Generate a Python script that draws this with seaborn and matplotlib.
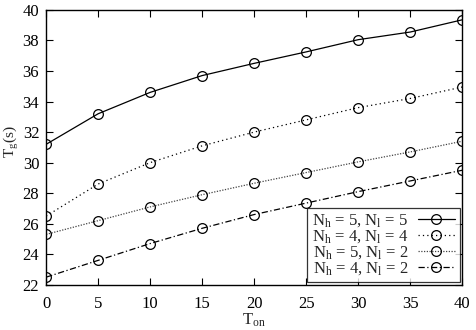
import numpy as np
import pandas as pd
import matplotlib
matplotlib.use('Agg')
import matplotlib.pyplot as plt
import seaborn as sns

sns.set_style('ticks')
plt.rcParams['font.family'] = ['Liberation Serif', 'DejaVu Serif']
plt.rcParams['mathtext.fontset'] = 'custom'
plt.rcParams['mathtext.rm'] = 'Liberation Serif'
plt.rcParams['mathtext.it'] = 'Liberation Serif'

t_on = [0, 5, 10, 15, 20, 25, 30, 35, 40]
s_55 = [31.2, 33.2, 34.6, 35.7, 36.5, 37.25, 38.05, 38.55, 39.35]
s_44 = [26.5, 28.6, 30.0, 31.1, 32.0, 32.8, 33.6, 34.2, 34.95]
s_52 = [25.3, 26.2, 27.1, 27.9, 28.65, 29.35, 30.05, 30.7, 31.4]
s_42 = [22.5, 23.6, 24.7, 25.7, 26.6, 27.35, 28.1, 28.8, 29.5]
labels = [r'N$_\mathrm{h}$ = 5, N$_\mathrm{l}$ = 5',
          r'N$_\mathrm{h}$ = 4, N$_\mathrm{l}$ = 4',
          r'N$_\mathrm{h}$ = 5, N$_\mathrm{l}$ = 2',
          r'N$_\mathrm{h}$ = 4, N$_\mathrm{l}$ = 2']

styles = ['-', (0, (1, 2.5)), (0, (1, 1.2)), (0, (5, 2, 1, 2))]
colors = ['black', 'black', '#444444', 'black']

fig, ax = plt.subplots(figsize=(4.76, 3.30), dpi=100)
fig.subplots_adjust(left=0.097, right=0.971, top=0.970, bottom=0.137)

for y, lab, ls, c in zip([s_55, s_44, s_52, s_42], labels, styles, colors):
    df = pd.DataFrame({'t': t_on, 'v': y})
    sns.lineplot(data=df, x='t', y='v', ax=ax, color=c, linestyle=ls, lw=0.9,
                 marker='o', markersize=7, markerfacecolor='none',
                 markeredgecolor='black', markeredgewidth=0.9, label=lab)

ax.set_xlim(0, 40)
ax.set_ylim(22, 40)
ax.set_xticks(range(0, 41, 5))
ax.set_yticks(range(22, 41, 2))
ax.tick_params(direction='in', length=5, width=0.8, top=True, right=True,
               labelsize=12, colors='black')
ax.tick_params(axis='x', pad=8)
ax.tick_params(axis='y', pad=5)
for sp in ax.spines.values():
    sp.set_linewidth(1.0)
    sp.set_color('black')

ax.set_xlabel(r'T$_\mathrm{on}$', fontsize=12, labelpad=0)
ax.set_ylabel(r'T$_\mathrm{g}$(s)', fontsize=11)
ax.yaxis.set_label_coords(-0.06, 0.52)

leg = ax.legend(loc='lower right', markerfirst=False, fontsize=12,
                frameon=True, fancybox=False, edgecolor='black',
                handlelength=2.2, handletextpad=0.6, labelspacing=-0.05,
                borderpad=0.3, borderaxespad=0.15)
leg.get_frame().set_linewidth(0.9)

fig.savefig('out.png', dpi=100)
